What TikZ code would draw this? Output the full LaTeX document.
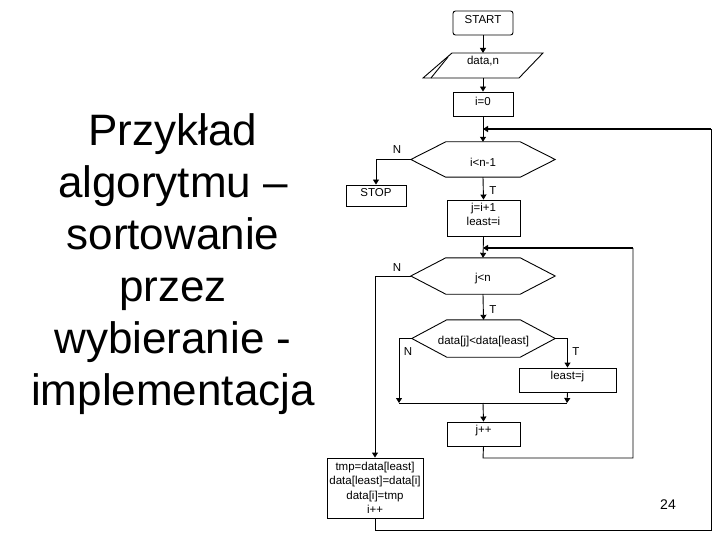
\documentclass[tikz,border=0pt]{standalone}
\usepackage{fontspec}
\setmainfont{Liberation Sans}
\usetikzlibrary{arrows.meta}
\tikzset{
  flow/.style={line width=0.9pt, -{Triangle[length=5pt,width=6pt]}},
  plain/.style={line width=0.9pt},
  loopline/.style={line width=1.2pt},
  box/.style={draw, line width=0.9pt, rectangle, inner sep=0pt, align=center, font=\fontsize{11.5}{14}\selectfont},
  ghost/.style={draw=none, inner sep=0pt, align=center, font=\fontsize{11.5}{14}\selectfont},
  lab/.style={inner sep=0pt, font=\fontsize{11.5}{14}\selectfont},
}
\newcommand{\hexdraw}[1]{%
  \draw[line width=0.9pt] (#1.west) -- ([xshift=35pt]#1.north west) -- ([xshift=-35pt]#1.north east) -- (#1.east) -- ([xshift=-35pt]#1.south east) -- ([xshift=35pt]#1.south west) -- cycle;}
\newcommand{\up}[2]{\raisebox{#1}[\height][\depth]{#2}}
\begin{document}
\begin{tikzpicture}[x=1pt,y=-1pt]
\useasboundingbox (0,0) rectangle (720,540);

% title
\node (title) [align=center, inner sep=0pt, font=\fontsize{44}{52}\selectfont] at (173,264)
  {Przykład\\algorytmu –\\sortowanie\\przez\\wybieranie -\\implementacja};

% page number
\node (pnum) [inner sep=0pt, font=\fontsize{14}{16}\selectfont] at (668,505) {24};

% nodes
\node (start) [box, rounded corners=2.5pt, minimum width=60pt, minimum height=24pt] at (483,23) {\up{3pt}{START}};
\node (data) [ghost, minimum width=96pt, minimum height=25pt] at (483,65.5) {\up{4pt}{data,n}};
\draw[line width=0.9pt] (452,53) -- (543,53) -- (519,78) -- (423,78) -- cycle;
\draw[line width=0.9pt] (431,78) -- (448,57);
\node (i0) [box, minimum width=60pt, minimum height=24pt] at (483,104) {\up{3pt}{i=0}};

\node (h1) [ghost, minimum width=144pt, minimum height=35pt] at (483,159.5) {\up{-3pt}{i<n-1}};
\hexdraw{h1}
\node (stop) [box, minimum width=60pt, minimum height=21pt] at (376,195.5) {\up{3pt}{STOP}};
\node (b1) [box, minimum width=73pt, minimum height=36pt] at (483.5,218)
  {\up{2.5pt}{\begin{tabular}{@{}c@{}}j=i+1\\least=i\end{tabular}}};

\node (h2) [ghost, minimum width=144pt, minimum height=36pt] at (483,276) {\up{-3pt}{j<n}};
\hexdraw{h2}
\node (h3) [ghost, minimum width=143pt, minimum height=37pt] at (483.5,338.5) {\up{-3pt}{data[j]<data[least]}};
\hexdraw{h3}
\node (least) [box, minimum width=97pt, minimum height=24pt] at (567.5,380) {\up{3pt}{least=j}};
\node (jpp) [box, minimum width=73pt, minimum height=24pt] at (483.5,434) {\up{3pt}{j++}};
\node (swap) [box, minimum width=96pt, minimum height=60pt, font=\fontsize{11.5}{14.5}\selectfont] at (375,488)
  {tmp=data[least]\\data[least]=data[i]\\data[i]=tmp\\i++};

% labels
\node (n1) [lab] at (397,150) {N};
\node (t1) [lab] at (493,191) {T};
\node (n2) [lab] at (397,268) {N};
\node (t2) [lab] at (493,310) {T};
\node (n3) [lab] at (408,352) {N};
\node (t3) [lab] at (576,352) {T};

% coordinates
\coordinate (dtop) at (483,53);
\coordinate (dbot) at (483,78);
\coordinate (j1) at (483,129);
\coordinate (j2) at (483,248);
\coordinate (m1) at (399,403);
\coordinate (m2) at (567,403);
\coordinate (m0) at (483,403);

% connectors
\draw[flow] (start.south) -- (dtop);
\draw[flow] (dbot) -- (i0.north);
\draw[flow] (i0.south) -- (h1.north);
\draw[flow] (h1.west) -| (stop.north);
\draw[flow] (h1.south) -- (b1.north);
\draw[flow] (b1.south) -- (h2.north);
\draw[flow] (h2.west) -| (swap.north);
\draw[flow] (h2.south) -- (h3.north);
\draw[flow] (h3.west) -| (m1);
\draw[flow] (h3.east) -| (least.north);
\draw[flow] (least.south) -- (m2);
\draw[plain] (m1) -- (m2);
\draw[flow] (m0) -- (jpp.north);

% loops
\draw[plain] (jpp.south) -- (483,458) -- (633,458) -- (633,248);
\draw[loopline, -{Triangle[length=5pt,width=6pt]}] (633,248) -- (j2);
\draw[plain] (swap.south) -- (375,530) -- (711,530) -- (711,129);
\draw[loopline, -{Triangle[length=5pt,width=6pt]}] (711,129) -- (j1);
\end{tikzpicture}
\end{document}
